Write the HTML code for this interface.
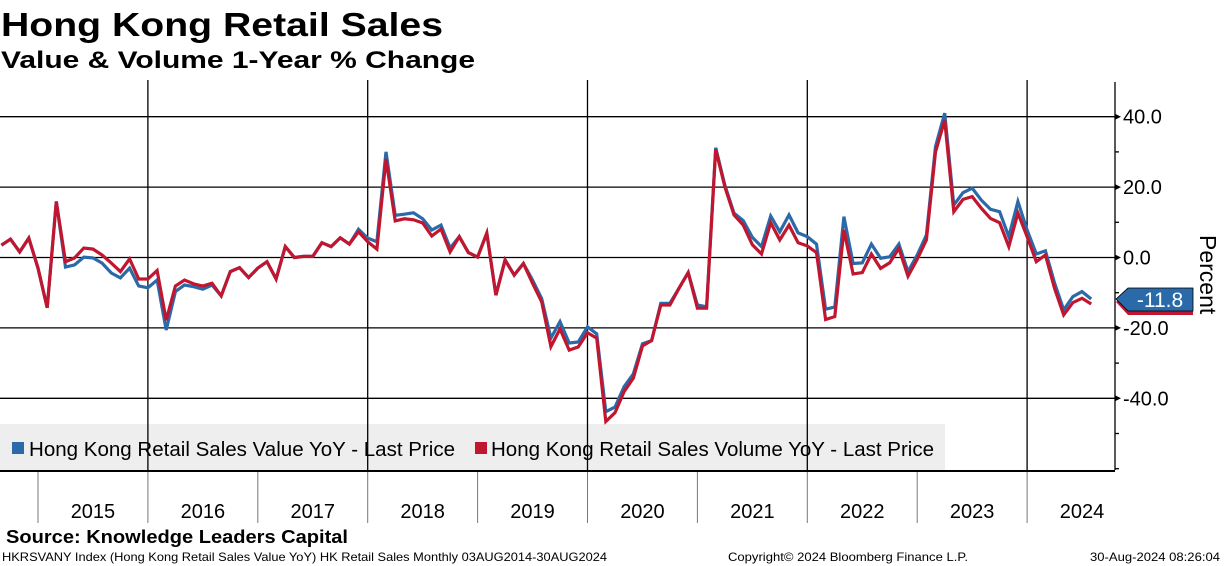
<!DOCTYPE html>
<html><head><meta charset="utf-8"><style>
html,body{margin:0;padding:0;background:#fff;}
svg{display:block;font-family:"Liberation Sans",sans-serif;}
</style></head><body>
<svg id="chart" width="1224" height="566" viewBox="0 0 1224 566" xmlns="http://www.w3.org/2000/svg">
<text x="1" y="36" font-size="33" font-weight="bold" textLength="442" lengthAdjust="spacingAndGlyphs">Hong Kong Retail Sales</text>
<text x="1" y="68" font-size="24" font-weight="bold" textLength="474" lengthAdjust="spacingAndGlyphs">Value &amp; Volume 1-Year % Change</text>
<rect x="0" y="424" width="945" height="46" fill="#eeeeee"/>
<g id="grid"></g>
<g id="series"></g>
<g id="axis"></g>
<g>
<rect x="12" y="442" width="12" height="12" fill="#2a6aa8"/>
<text x="29" y="456" font-size="20" textLength="426" lengthAdjust="spacingAndGlyphs">Hong Kong Retail Sales Value YoY - Last Price</text>
<rect x="475" y="442" width="12" height="12" fill="#c0162f"/>
<text x="491" y="456" font-size="20" textLength="443" lengthAdjust="spacingAndGlyphs">Hong Kong Retail Sales Volume YoY - Last Price</text>
</g>
<text x="6" y="543" font-size="18" font-weight="bold" textLength="342" lengthAdjust="spacingAndGlyphs">Source: Knowledge Leaders Capital</text>
<text x="2" y="561" font-size="12" textLength="605" lengthAdjust="spacingAndGlyphs">HKRSVANY Index (Hong Kong Retail Sales Value YoY) HK Retail Sales  Monthly 03AUG2014-30AUG2024</text>
<text x="728" y="561" font-size="12" textLength="240" lengthAdjust="spacingAndGlyphs">Copyright© 2024 Bloomberg Finance L.P.</text>
<text x="1090" y="561" font-size="12" textLength="130" lengthAdjust="spacingAndGlyphs">30-Aug-2024 08:26:04</text>
</svg>
<script>
const years = ["2015","2016","2017","2018","2019","2020","2021","2022","2023","2024"];
const yTicks = [40, 20, 0, -20, -40];
const startMonth = 4; // index offset: first point (Aug 2014) plotted at month-end
const valueYoY = [3.5,5.2,1.6,5.5,-3,-14.3,15.9,-2.7,-2.1,0.1,-0.1,-1.6,-4.4,-5.8,-3,-8.1,-8.6,-6.4,-20.6,-9.7,-7.8,-8.3,-9,-7.8,-10.9,-4,-2.9,-5.7,-3,-1.2,-6.1,3.1,0,0.3,0.3,4.2,3.1,5.6,3.8,8,5.5,4.5,30,12,12.3,12.7,11,7.8,9.2,2.7,5.9,1.4,0.1,6.9,-10.7,-0.7,-5,-1.7,-6.4,-11.7,-22.9,-18.2,-24.3,-24,-19.7,-21.7,-43.8,-42.5,-36.7,-33.1,-24.5,-23.6,-13,-13,-8.7,-4.3,-13.5,-14,31.2,20.5,12.6,10.5,5.7,3.1,11.8,7.3,12.1,7,5.9,3.8,-14.7,-14.1,11.6,-1.7,-1.5,3.8,-0.2,0.2,3.8,-4,0.7,6.4,31.5,41,14.9,18.4,19.7,16.3,13.7,13,5.9,15.9,7.8,1,1.9,-7.3,-14.9,-11.1,-9.7,-11.8];
const volumeYoY = [3.5,5.2,1.6,5.5,-3,-14.3,15.9,-1.2,-0.1,2.7,2.4,0.7,-1.6,-4,-0.4,-6.1,-6.1,-3.7,-17.8,-8.1,-6.4,-7.5,-8.1,-7.3,-10.9,-4,-2.9,-5.7,-3,-1.2,-6.1,3.1,0,0.3,0.3,4.2,3.1,5.6,3.8,7.3,4.5,2.4,28,10.4,11,10.7,9.8,6.1,8.1,1.6,5.9,1.4,0.1,6.9,-10.7,-0.7,-5,-1.7,-7.3,-12.6,-25.3,-20.3,-26.3,-25.4,-21.4,-22.9,-46.6,-44.1,-38.1,-34.3,-25.1,-23.6,-13.5,-13.5,-8.7,-4.3,-14.4,-14.4,30.7,20,12.1,9.2,3.6,1,9.9,5,9.2,4.2,3.3,1.4,-17.6,-16.8,7.8,-4.7,-4.3,1,-3.1,-1.5,2.6,-5.3,-0.5,5,30,39,13,16.5,17.3,14,11.1,9.9,3.1,12.6,5.9,-1.2,0.7,-8.8,-16.3,-12.8,-11.6,-13.2];
const lastValue = "-11.8";

const NS="http://www.w3.org/2000/svg";
const PLOT_L=0, PLOT_R=1115, PLOT_T=80, PLOT_B=470;
const Y0=257.5, PX_PER_UNIT=3.52;
const YEAR_X0=38, YEAR_W=109.9;
function yScale(v){return Y0 - v*PX_PER_UNIT;}
function xScale(i){return YEAR_X0 + (i - startMonth)*YEAR_W/12;}
function mk(tag, attrs, parent){const e=document.createElementNS(NS,tag);for(const k in attrs)e.setAttribute(k,attrs[k]);parent.appendChild(e);return e;}

const grid=document.getElementById('grid');
yTicks.forEach(t=>{
  const l=mk('line',{x1:PLOT_L,x2:PLOT_R,y1:yScale(t),y2:yScale(t),stroke:'#000','stroke-width':1.3},grid);
  
  
});
years.forEach((y,k)=>{
  const x=YEAR_X0+k*YEAR_W;
  if(k%2===1){
    const l=mk('line',{x1:x,x2:x,y1:PLOT_T,y2:PLOT_B,stroke:'#000','stroke-width':1.3},grid);
    
    
  }
  const s=mk('line',{x1:x,x2:x,y1:PLOT_B,y2:523,stroke:'#777','stroke-width':1},grid);
  
  
  const t=mk('text',{x:x+YEAR_W/2,y:518,'font-size':20,'text-anchor':'middle'},grid);
  t.textContent=y;
  
  
});
const bl=mk('line',{x1:0,x2:PLOT_R,y1:PLOT_B+1,y2:PLOT_B+1,stroke:'#000','stroke-width':2},grid);



const series=document.getElementById('series');
function drawLine(arr,color,name){
  const pts=arr.map((v,i)=>xScale(i).toFixed(1)+','+yScale(v).toFixed(1)).join(' ');
  const p=mk('polyline',{points:pts,fill:'none',stroke:color,'stroke-width':3.2,'stroke-linejoin':'miter'},series);
  
  
}
drawLine(valueYoY,'#2a6aa8','series-value-yoy');
drawLine(volumeYoY,'#c0162f','series-volume-yoy');

const ax=document.getElementById('axis');
const al=mk('line',{x1:PLOT_R,x2:PLOT_R,y1:82,y2:PLOT_B,stroke:'#000','stroke-width':1.3},ax);


for(let v=-60;v<=50;v+=10){
  const y=yScale(v); if(y<82||y>PLOT_B)continue;
  const tk=mk('line',{x1:PLOT_R,x2:PLOT_R+4,y1:y,y2:y,stroke:'#000','stroke-width':1.3},ax);
  
  
}
yTicks.forEach(t=>{
  const y=yScale(t);
  const a=mk('path',{d:`M${PLOT_R} ${y-3}L${PLOT_R+6} ${y}L${PLOT_R} ${y+3}Z`,fill:'#000'},ax);
  
  
  const tx=mk('text',{x:1123,y:y+7,'font-size':20},ax);
  tx.textContent=t.toFixed(1);
  
  
});
const yt=mk('text',{x:0,y:0,'font-size':23,transform:'translate(1200,235) rotate(90)'},ax);
yt.textContent='Percent';


// last value tags
const lyV=yScale(valueYoY[valueYoY.length-1]);
const tagR=mk('path',{d:`M1116 ${lyV+3}L1128 ${lyV-8}L1193 ${lyV-8}L1193 ${lyV+16}L1128 ${lyV+16}Z`,fill:'#c0162f'},ax);


const tag=mk('path',{d:`M1116 ${lyV}L1128 ${lyV-11}L1193 ${lyV-11}L1193 ${lyV+12}L1128 ${lyV+12}Z`,fill:'#2a6aa8',stroke:'#000','stroke-width':0.8},ax);


const tt=mk('text',{x:1160,y:lyV+8,'font-size':21,fill:'#fff','text-anchor':'middle'},ax);
tt.textContent=lastValue;


</script>
</body></html>
